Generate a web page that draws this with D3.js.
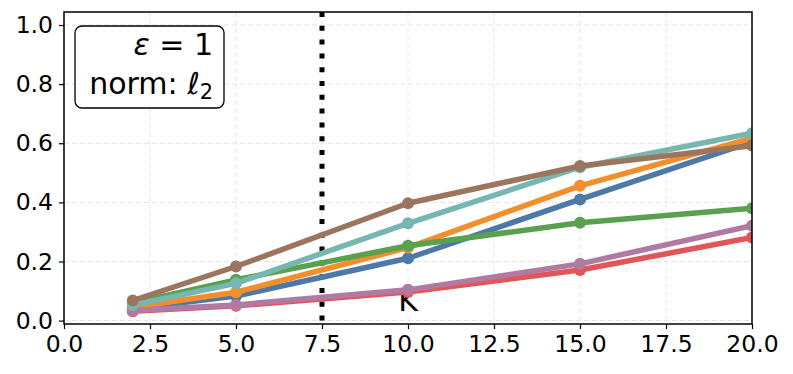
<!DOCTYPE html>
<html>
<head>
<meta charset="utf-8">
<script src="https://cdn.jsdelivr.net/npm/d3@7"></script>
<style>
  body { margin: 0; background: #fff; }
  text { font-family: "DejaVu Sans", sans-serif; }
</style>
</head>
<body>
<svg width="793" height="374"></svg>
<script>
var ks = [2, 5, 10, 15, 20];
var xTicks = [0, 2.5, 5, 7.5, 10, 12.5, 15, 17.5, 20];
var yTicks = [0, 0.2, 0.4, 0.6, 0.8, 1.0];

// drawing order = bottom to top
var blueVals   = [0.040, 0.083, 0.211, 0.410, 0.605];
var orangeVals = [0.045, 0.096, 0.247, 0.456, 0.617];
var redVals    = [0.032, 0.050, 0.097, 0.171, 0.281];
var greenVals  = [0.060, 0.138, 0.253, 0.331, 0.380];
var purpleVals = [0.034, 0.053, 0.104, 0.192, 0.321];
var tealVals   = [0.053, 0.126, 0.329, 0.519, 0.634];
var brownVals  = [0.068, 0.183, 0.397, 0.523, 0.592];

var series = [
    { color: "#4e79a7", values: blueVals },
    { color: "#f28e2b", values: orangeVals },
    { color: "#e15759", values: redVals },
    { color: "#59a14f", values: greenVals },
    { color: "#b07aa1", values: purpleVals },
    { color: "#76b7b2", values: tealVals },
    { color: "#9c755f", values: brownVals }
];

var svg = d3.select("svg");
var pLeft = 64, pRight = 752, pTop = 12, pBottom = 324;

var x = d3.scaleLinear().domain([0, 20]).range([pLeft, pRight]);
var y = d3.scaleLinear().domain([-0.0115, 1.044]).range([pBottom, pTop]);

svg.append("clipPath").attr("id", "plot-clip")
    .append("rect").attr("x", pLeft).attr("y", pTop)
    .attr("width", pRight - pLeft).attr("height", pBottom - pTop);

// grid
var grid = svg.append("g").attr("stroke", "#e4e4e4").attr("stroke-width", 1)
    .attr("stroke-dasharray", "5,3");
grid.selectAll(".gx").data(xTicks).enter().append("line")
    .attr("x1", function (d) { return x(d); }).attr("x2", function (d) { return x(d); })
    .attr("y1", pTop).attr("y2", pBottom);
grid.selectAll(".gy").data(yTicks).enter().append("line")
    .attr("y1", function (d) { return y(d); }).attr("y2", function (d) { return y(d); })
    .attr("x1", pLeft).attr("x2", pRight);

// x label sitting inside the plot
svg.append("text").attr("x", x(10)).attr("y", 311)
    .attr("text-anchor", "middle").attr("font-size", 30).text("K");

// vertical dotted line
svg.append("line")
    .attr("x1", x(7.5)).attr("x2", x(7.5))
    .attr("y1", pTop).attr("y2", pBottom)
    .attr("stroke", "#000").attr("stroke-width", 5)
    .attr("stroke-dasharray", "5,8.8");

var line = d3.line()
    .x(function (d, i) { return x(ks[i]); })
    .y(function (d) { return y(d); });

var plot = svg.append("g").attr("clip-path", "url(#plot-clip)");
series.forEach(function (s) {
    var g = plot.append("g");
    g.append("path")
        .attr("d", line(s.values))
        .attr("fill", "none")
        .attr("stroke", s.color)
        .attr("stroke-width", 5.5)
        .attr("stroke-linejoin", "round");
    g.selectAll("circle").data(s.values).enter().append("circle")
        .attr("cx", function (d, i) { return x(ks[i]); })
        .attr("cy", function (d) { return y(d); })
        .attr("r", 6)
        .attr("fill", s.color);
});

// axes
var xAxis = d3.axisBottom(x).tickValues(xTicks)
    .tickFormat(d3.format(".1f")).tickSizeOuter(0).tickSize(5).tickPadding(6);
var yAxis = d3.axisLeft(y).tickValues(yTicks)
    .tickFormat(d3.format(".1f")).tickSizeOuter(0).tickSize(5).tickPadding(6);

var gx = svg.append("g").attr("transform", "translate(0," + pBottom + ")").call(xAxis);
var gy = svg.append("g").attr("transform", "translate(" + pLeft + ",0)").call(yAxis);
[gx, gy].forEach(function (g) {
    g.select(".domain").remove();
    g.selectAll("line").attr("stroke", "#000").attr("stroke-width", 1.2);
    g.selectAll("text").attr("font-size", 23.5).attr("fill", "#000")
        .attr("font-family", "DejaVu Sans, sans-serif");
});

// frame
svg.append("rect").attr("x", pLeft).attr("y", pTop)
    .attr("width", pRight - pLeft).attr("height", pBottom - pTop)
    .attr("fill", "none").attr("stroke", "#000").attr("stroke-width", 1.5);

// annotation box
svg.append("rect").attr("x", 75).attr("y", 26).attr("width", 149).attr("height", 82)
    .attr("rx", 7).attr("fill", "#fff").attr("stroke", "#000").attr("stroke-width", 1.3);
var ann = svg.append("text").attr("text-anchor", "end").attr("font-size", 30);
ann.append("tspan").attr("x", 213).attr("y", 55)
    .html('<tspan font-style="italic">ε</tspan> = 1');
ann.append("tspan").attr("x", 213).attr("y", 94)
    .html('norm: <tspan font-style="italic">ℓ</tspan><tspan font-size="21" dy="5">2</tspan>');
</script>
</body>
</html>
